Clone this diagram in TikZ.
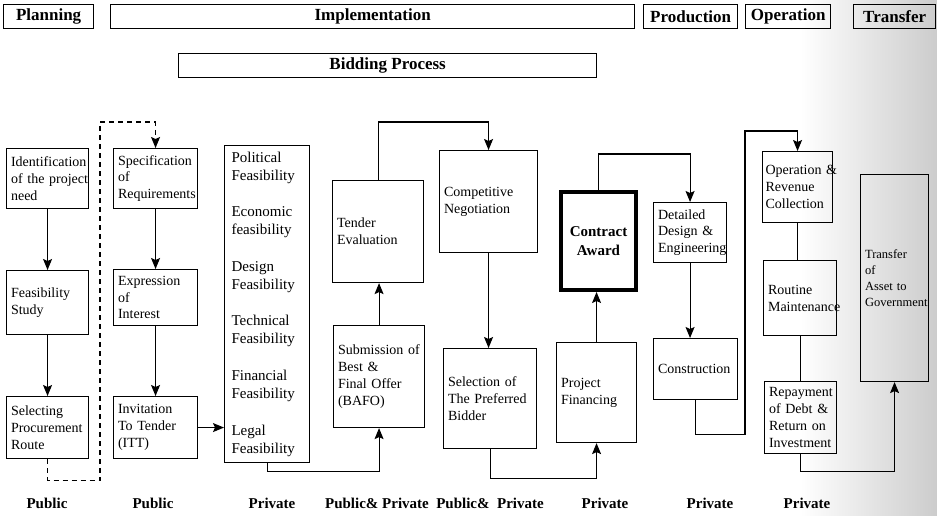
\documentclass[tikz,border=0pt]{standalone}
\usepackage{fontspec}
\setmainfont{Liberation Serif}
\usetikzlibrary{arrows.meta}
\begin{document}
\begin{tikzpicture}[x=1pt,y=-1pt,
  box/.style={draw, line width=1.1pt, inner xsep=4.5pt, inner ysep=2pt, align=left,
    font=\fontsize{14}{16.8}\selectfont, anchor=north west},
  hdr/.style={draw, line width=1.3pt, inner sep=0pt, minimum height=24pt,
    font=\bfseries\fontsize{17}{19}\selectfont, anchor=north west},
  arr/.style={line width=1.1pt, -{Stealth[length=11pt,width=9pt,inset=2pt]}},
  conn/.style={line width=1.1pt},
  dsh/.style={line width=1.2pt, dash pattern=on 5pt off 4pt, -{Stealth[length=11pt,width=9pt,inset=2pt]}},
  lbl/.style={font=\bfseries\fontsize{15}{17}\selectfont}]
\useasboundingbox (0,0) rectangle (937,515);
\shade[left color=white, right color=black!20] (800,0) rectangle (937,515);

% header bars
\node[hdr, minimum width=90pt]  (hplan)  at (3,4)   {Planning};
\node[hdr, minimum width=524pt] (himpl)  at (110,4) {Implementation};
\node[hdr, minimum width=94pt]  (hprod)  at (643,4) {Production};
\node[hdr, minimum width=85pt]  (hoper)  at (745,4) {Operation};
\node[hdr, minimum width=82pt]  (htrans) at (853,4) {Transfer};
\node[hdr, minimum width=418pt] (hbid)   at (178,53) {Bidding Process};

% process boxes
\node[box, text width=73pt, minimum height=60pt] (ident) at (6,148) {Identification\\\mbox{of the project}\\need};
\node[box, text width=73pt, minimum height=64pt] (feas) at (6,270) {Feasibility\\Study};
\node[box, text width=73pt, minimum height=62pt] (select) at (6,396) {Selecting\\Procurement\\Route};
\node[box, text width=75pt, minimum height=60pt] (spec) at (113,148) {Specification\\of\\Requirements};
\node[box, text width=75pt, minimum height=56pt] (expr) at (113,269) {Expression\\of\\Interest};
\node[box, text width=75pt, minimum height=62pt] (itt) at (113,396) {Invitation\\\mbox{To Tender}\\(ITT)};
\node[box, inner xsep=7pt, text width=71pt, minimum height=317pt,
      font=\fontsize{15}{18}\selectfont] (fcol) at (224,145)
  {Political\\Feasibility\\[18.6pt]Economic\\feasibility\\[18.6pt]Design\\Feasibility\\[18.6pt]Technical\\Feasibility\\[18.6pt]Financial\\Feasibility\\[18.6pt]Legal\\Feasibility};
\node[box, text width=82pt, minimum height=102pt] (tender) at (332,180) {Tender\\Evaluation};
\node[box, text width=82pt, minimum height=102pt] (bafo) at (333,325) {\mbox{Submission of}\\\mbox{Best \&}\\\mbox{Final Offer}\\(BAFO)};
\node[box, text width=89pt, minimum height=102pt] (comp) at (439,150) {Competitive\\Negotiation};
\node[box, text width=84pt, minimum height=100pt] (sel) at (443,348) {\mbox{Selection of}\\\mbox{The Preferred}\\Bidder};
\node[draw, line width=4pt, minimum width=75pt, minimum height=98pt, align=center,
      font=\bfseries\fontsize{15}{19}\selectfont, anchor=north west] (contract) at (559,190) {Contract\\Award};
\node[box, text width=71pt, minimum height=100pt] (projfin) at (556,342) {Project\\Financing};
\node[box, text width=64pt, minimum height=60pt] (detail) at (653,202) {Detailed\\\mbox{Design \&}\\Engineering};
\node[box, text width=75pt, minimum height=61pt] (constr) at (653,338) {Construction};
\node[box, inner xsep=3pt, text width=64pt, minimum height=71pt] (oper) at (762,151) {\mbox{Operation \&}\\Revenue\\Collection};
\node[box, text width=64pt, minimum height=75pt] (routine) at (763,260) {Routine\\Maintenance};
\node[box, text width=63pt, minimum height=72pt] (repay) at (764,381) {Repayment\\\mbox{of Debt \&}\\\mbox{Return on}\\Investment};
\node[box, text width=59pt, minimum height=207pt, font=\fontsize{12.5}{16}\selectfont] (transfer) at (860,174) {Transfer\\of\\\mbox{Asset to}\\Government};

% waypoints
\coordinate (c1) at (100,122);
\coordinate (c2) at (745,131);

% connectors
\draw[arr] (ident.south) -- (feas.north);
\draw[arr] (feas.south) -- (select.north);
\draw[dsh] (select.south) -- ++(0,21) -| (c1) -| (spec.north);
\draw[arr] (spec.south) -- (expr.north);
\draw[arr] (expr.south) -- (itt.north);
\draw[arr] (itt.east) -- (itt.east -| fcol.west);
\draw[arr] (fcol.south) -- ++(0,8) -| (bafo.south);
\draw[arr] (bafo.north) -- (bafo.north |- tender.south);
\draw[arr] (tender.north) -- ++(0,-58) -| (comp.north);
\draw[arr] (comp.south) -- (comp.south |- sel.north);
\draw[arr] (sel.south) -- ++(0,29) -| (projfin.south);
\draw[arr] (projfin.north) -- (projfin.north |- contract.south);
\draw[arr] (contract.north) -- ++(0,-36) -| (detail.north);
\draw[arr] (detail.south) -- (detail.south |- constr.north);
\draw[arr] (constr.south) -- ++(0,34) -| (c2) -| (oper.north);
\draw[conn] (oper.south) -- (oper.south |- routine.north);
\draw[conn] (routine.south) -- (routine.south |- repay.north);
\draw[arr] (repay.south) -- ++(0,17) -| (transfer.south);

% bottom labels
\node[lbl] (l1) at (47,503) {Public};
\node[lbl] (l2) at (153,503) {Public};
\node[lbl] (l3) at (272,503) {Private};
\node[lbl] (l4) at (377,503) {Public\& Private};
\node[lbl] (l5) at (490,503) {Public\&\ \ Private};
\node[lbl] (l6) at (605,503) {Private};
\node[lbl] (l7) at (710,503) {Private};
\node[lbl] (l8) at (807,503) {Private};
\end{tikzpicture}
\end{document}
